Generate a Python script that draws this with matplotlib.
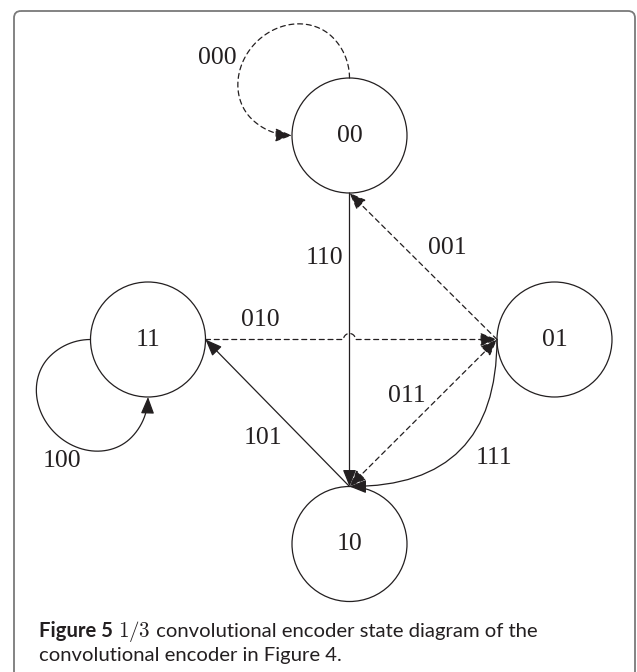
import numpy as np
import matplotlib
matplotlib.use('Agg')
import matplotlib.pyplot as plt
from matplotlib.patches import Circle, FancyArrowPatch, FancyBboxPatch, ArrowStyle
from matplotlib.path import Path

plt.rcParams['font.family'] = 'DejaVu Sans'
plt.rcParams['mathtext.fontset'] = 'cm'

# encoder states and where they sit (pixel coords of the original page)
states = ['00', '01', '10', '11']
state_x = [349.5, 554.5, 349.5, 148.0]
state_y = [135.5, 339.5, 544.0, 339.5]

# transitions: from, to, output bits
edge_src = ['00', '00', '01', '11', '10', '10', '11', '01']
edge_dst = ['00', '10', '00', '01', '01', '11', '11', '10']
edge_out = ['000', '110', '001', '010', '011', '101', '100', '111']

caption_bold = 'Figure 5'
caption_rate = r'$1/3$'
caption_rest = ' convolutional encoder state diagram of the'
caption_line2 = 'convolutional encoder in Figure 4.'

# ---- layout / style ----
R = 57.5
INK = '#231f20'
SERIF = 'Liberation Serif'
SANS = 'Lato'
LW = 0.9
DASH = (0, (4, 3))
LABEL_FS = 18.5

# which side of each circle an edge leaves from / arrives at
anchor = {
    '000': ('top', 'left'),
    '110': ('bottom', 'top'),
    '001': ('left', 'bottom'),
    '010': ('right', 'left'),
    '011': ('top', 'left'),
    '101': ('top', 'right'),
    '100': ('left', 'bottom'),
    '111': ('left', 'top'),
}
dashed = {'000', '001', '010', '011'}
both_heads = {'011'}
curve_rad = {'111': -0.5}
loop_squash = 0.88  # self loops are a bit flatter than a full circle
label_pos = {
    '000': (217, 58), '110': (324, 258), '001': (447, 248), '010': (260, 320),
    '011': (407, 396), '101': (263, 438), '100': (62, 461), '111': (494, 458),
}

pos = {s: (x, y) for s, x, y in zip(states, state_x, state_y)}


def side_point(s, side):
    x, y = pos[s]
    off = {'top': (0, -R), 'bottom': (0, R), 'left': (-R, 0), 'right': (R, 0)}[side]
    return (x + off[0], y + off[1])


fig = plt.figure(figsize=(6.37, 6.72), dpi=100)
ax = fig.add_axes([0, 0, 1, 1])
ax.set_xlim(0, 637)
ax.set_ylim(672, 0)
ax.axis('off')

# page frame
ax.add_patch(FancyBboxPatch((14, 11), 621, 720, boxstyle='round,pad=0,rounding_size=7',
                            fc='none', ec='#7a7a7a', lw=1.3, clip_on=False))

for s in states:
    ax.add_patch(Circle(pos[s], R, fill=False, ec=INK, lw=LW))
    ax.text(pos[s][0], pos[s][1], s, ha='center', va='center', fontsize=LABEL_FS,
            family=SERIF, color=INK)

head = ArrowStyle('-|>', head_length=0.85, head_width=0.34)
head2 = ArrowStyle('<|-|>', head_length=0.85, head_width=0.34)
hop_x = pos['00'][0]

for src, dst, out in zip(edge_src, edge_dst, edge_out):
    a = side_point(src, anchor[out][0])
    b = side_point(dst, anchor[out][1])
    ls = DASH if out in dashed else '-'
    kw = dict(arrowstyle=head2 if out in both_heads else head, mutation_scale=12,
              color=INK, lw=LW, linestyle=ls, shrinkA=0, shrinkB=0)
    if src == dst:
        # self loop: 3/4 of a circle through the two anchor points,
        # pulled in a little on the far side
        node = np.array(pos[src])
        c = np.array(a) + np.array(b) - node
        a0 = np.arctan2(a[1] - c[1], a[0] - c[0])
        a1 = np.arctan2(b[1] - c[1], b[0] - c[0])
        if a1 > a0:
            a1 -= 2 * np.pi
        t = np.linspace(a0, a1, 80)
        verts = np.column_stack([c[0] + R * np.cos(t), c[1] + R * np.sin(t)])
        away = (c - node) / np.linalg.norm(c - node)
        d = (verts - c) @ away
        far = np.clip(d, 0, None)
        verts = verts - np.outer(far * (1 - loop_squash), away)
        p = FancyArrowPatch(path=Path(verts), **kw)
    elif out == '010':
        # horizontal line hops over the vertical 00->10 edge
        hr = 6
        t = np.linspace(np.pi, 0, 20)
        bump = np.column_stack([hop_x + hr * np.cos(t), a[1] - hr * np.sin(t)])
        verts = np.vstack([[a], bump, [b]])
        p = FancyArrowPatch(path=Path(verts), **kw)
    else:
        cs = 'arc3,rad=%s' % curve_rad.get(out, 0)
        p = FancyArrowPatch(a, b, connectionstyle=cs, **kw)
    ax.add_patch(p)
    lx, ly = label_pos[out]
    ax.text(lx, ly, out, ha='center', va='center', fontsize=LABEL_FS, family=SERIF, color=INK)

# caption, pieces placed one after the other on the same baseline
cap_x, cap_y1, cap_y2 = 39, 637, 661
cap_fs = 14.6
fig.canvas.draw()
rend = fig.canvas.get_renderer()
inv = ax.transData.inverted()


def width_data(txt):
    bb = txt.get_window_extent(renderer=rend)
    p0 = inv.transform((bb.x0, bb.y0))
    p1 = inv.transform((bb.x1, bb.y0))
    return p1[0] - p0[0]


t1 = ax.text(cap_x, cap_y1, caption_bold, fontsize=cap_fs, fontweight='bold', family=SANS,
             va='baseline', color=INK)
x = cap_x + width_data(t1) + 5
t2 = ax.text(x, cap_y1, caption_rate, fontsize=cap_fs + 0.5, va='baseline', color=INK)
x += width_data(t2)
ax.text(x, cap_y1, caption_rest, fontsize=cap_fs, family=SANS, va='baseline', color=INK)
ax.text(cap_x, cap_y2, caption_line2, fontsize=cap_fs, family=SANS, va='baseline', color=INK)

fig.savefig('out.png', dpi=100)
